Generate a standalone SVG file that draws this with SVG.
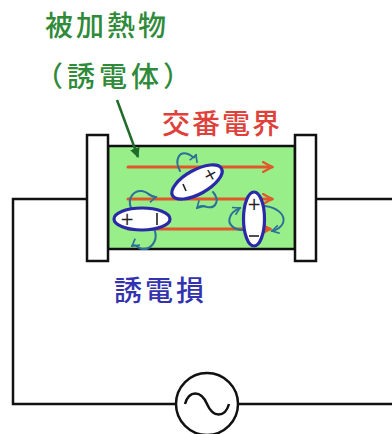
<svg xmlns="http://www.w3.org/2000/svg" width="392" height="434" viewBox="0 0 392 434">
  <defs>
    <style>
      .wire { fill: none; stroke: #111; stroke-width: 2.5; }
      .plate { fill: #fff; stroke: #111; stroke-width: 2.5; }
      .field { fill: none; stroke: #e0582a; stroke-width: 3; stroke-linecap: round; }
      .dipole { fill: #fff; stroke: #2a2aa8; stroke-width: 3.2; }
      .sign { font-family: "DejaVu Sans", sans-serif; font-size: 17px; fill: #222; text-anchor: middle; }
      .spin { fill: none; stroke: #2b7098; stroke-width: 2; stroke-linecap: round; marker-end: url(#spinHead); }
      .label { font-family: "Noto Sans CJK JP", "Noto Sans", sans-serif; font-size: 28px; font-weight: 500; }
    </style>
    <marker id="fieldHead" viewBox="0 0 12 12" refX="10" refY="6" markerWidth="4" markerHeight="4" orient="auto" markerUnits="strokeWidth">
      <path d="M1,1 L10,6 L1,11" fill="none" stroke="#e0582a" stroke-width="2.2" stroke-linecap="round"/>
    </marker>
    <marker id="spinHead" viewBox="0 0 10 10" refX="8" refY="5" markerWidth="5" markerHeight="5" orient="auto" markerUnits="strokeWidth">
      <path d="M1,1 L8,5 L1,9" fill="none" stroke="#2b7098" stroke-width="1.6"/>
    </marker>
    <marker id="pointerHead" viewBox="0 0 10 10" refX="9" refY="5" markerWidth="4" markerHeight="4" orient="auto" markerUnits="strokeWidth">
      <path d="M0,0 L10,5 L0,10 Z" fill="#1f6b2a"/>
    </marker>
  </defs>

  <rect width="392" height="434" fill="#fff"/>

  <!-- dielectric between electrodes -->
  <g id="dielectric">
    <rect x="108" y="146" width="187" height="103" fill="#98ee88" stroke="#111" stroke-width="2.5"/>
  </g>
  <g id="electrode-left">
    <rect class="plate" x="87" y="135" width="21" height="126"/>
  </g>
  <g id="electrode-right">
    <rect class="plate" x="295" y="135" width="21" height="126"/>
  </g>

  <!-- circuit wiring and label pointer -->
  <g id="connectors">
    <polyline class="wire" points="87,199 13,199 13,404 176,404"/>
    <polyline class="wire" points="238,404 392,404"/>
    <polyline class="wire" points="317,199 392,199"/>
    <line x1="117" y1="100" x2="138" y2="157" stroke="#1f6b2a" stroke-width="2.5" marker-end="url(#pointerHead)"/>
  </g>

  <!-- AC source -->
  <g id="ac-source">
    <circle cx="207" cy="404" r="31" fill="#fff" stroke="#111" stroke-width="2.5"/>
    <path d="M185,404 C189,390 201,390 207,404 S225,418 229,404" fill="none" stroke="#111" stroke-width="2.5"/>
  </g>

  <!-- alternating field lines -->
  <g id="field-lines">
    <line class="field" x1="128" y1="167" x2="272" y2="167" marker-end="url(#fieldHead)"/>
    <line class="field" x1="128" y1="199" x2="272" y2="199" marker-end="url(#fieldHead)"/>
    <line class="field" x1="128" y1="229" x2="270" y2="229" marker-end="url(#fieldHead)"/>
  </g>

  <!-- rotating dipoles -->
  <g id="dipole-tilted">
    <path class="spin" d="M180,171 C174,160 179,151 188,154 C193,156 194,160 196,155"/>
    <path class="spin" d="M213,192 C220,200 216,209 207,207 C203,206 200,205 197,208"/>
    <ellipse class="dipole" cx="197" cy="182" rx="28" ry="12" transform="rotate(-29 197 182)"/>
    <text class="sign" x="210" y="180" transform="rotate(-29 210 174)">+</text>
    <line x1="183" y1="184" x2="186" y2="191" stroke="#222" stroke-width="1.6"/>
  </g>

  <g id="dipole-horizontal">
    <path class="spin" d="M131,208 C127,198 134,190 142,191 C149,192 151,198 156,197"/>
    <path class="spin" d="M155,231 C158,242 150,250 142,249 C137,248 136,243 132,246"/>
    <ellipse class="dipole" cx="142" cy="219" rx="28" ry="11"/>
    <text class="sign" x="127" y="225">+</text>
    <line x1="157" y1="213" x2="157" y2="225" stroke="#222" stroke-width="1.6"/>
  </g>

  <g id="dipole-vertical">
    <path class="spin" d="M246,230 C235,231 227,225 230,217 C232,211 236,210 240,208"/>
    <path class="spin" d="M264,206 C277,207 286,215 283,223 C281,228 276,230 272,231"/>
    <ellipse class="dipole" cx="254" cy="219" rx="10.5" ry="27"/>
    <text class="sign" x="254" y="210">+</text>
    <line x1="249" y1="236" x2="259" y2="236" stroke="#222" stroke-width="1.6"/>
  </g>

  <!-- labels -->
  <g id="label-material">
    <text class="label" x="45" y="36" fill="#2f8a3a" letter-spacing="3">被加熱物</text>
    <text class="label" x="35" y="87" fill="#2f8a3a" letter-spacing="4">（誘電体）</text>
  </g>
  <g id="label-field">
    <text class="label" x="162" y="134" fill="#e0403a" letter-spacing="2">交番電界</text>
  </g>
  <g id="label-loss">
    <text class="label" x="114" y="301" fill="#3333b0" letter-spacing="3">誘電損</text>
  </g>
</svg>
